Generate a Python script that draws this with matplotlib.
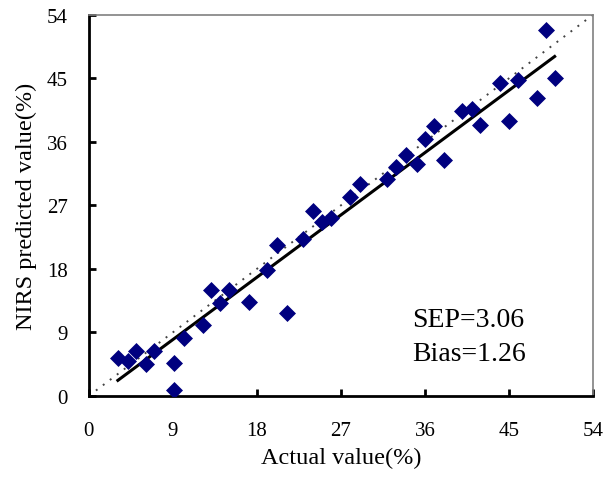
import matplotlib.pyplot as plt
import numpy as np

# Actual vs NIRS-predicted content (%)
actual = [3.1, 4.2, 5.0, 6.1, 7.0, 9.1, 9.1, 10.2, 12.2, 13.1, 14.0, 15.0, 17.1,
          19.1, 20.1, 21.2, 22.9, 24.0, 25.0, 25.9, 28.0, 29.0, 31.9, 32.9, 34.0,
          35.1, 36.0, 37.0, 38.0, 40.0, 41.0, 41.9, 44.0, 45.0, 46.0, 48.0, 49.0,
          49.9]
predicted = [5.4, 5.0, 6.3, 4.5, 6.3, 4.6, 0.8, 8.2, 10.1, 15.0, 13.2, 15.0, 13.3,
             17.9, 21.4, 11.8, 22.2, 26.2, 24.7, 25.2, 28.2, 30.0, 30.7, 32.4, 34.1,
             32.8, 36.4, 38.3, 33.4, 40.4, 40.6, 38.4, 44.4, 38.9, 44.7, 42.2, 51.9,
             45.1]

# regression line of predicted on actual
fit_slope = 0.981
fit_intercept = -0.85

ticks = [0, 9, 18, 27, 36, 45, 54]
sep = 3.06
bias = 1.26

plt.rcParams['font.family'] = ['Liberation Serif', 'DejaVu Serif']

fig = plt.figure(figsize=(6.05, 4.81), dpi=100)
ax = fig.add_axes([0.147, 0.175, 0.833, 0.792])

# 1:1 reference line
ax.plot([0, 54], [0, 54], linestyle=(0, (1, 3.5)), color='#444444', linewidth=1.4)

xs = np.array([min(actual), max(actual)])
ax.plot(xs, fit_slope * xs + fit_intercept, color='black', linewidth=2.2)

ax.scatter(actual, predicted, marker='D', s=75, color='#00007f', zorder=3,
           linewidths=0)

ax.set_xlim(0, 54)
ax.set_ylim(0, 54)
ax.set_xticks(ticks)
ax.set_yticks(ticks)

for side in ['left', 'bottom']:
    ax.spines[side].set_linewidth(2.0)
    ax.spines[side].set_color('black')
for side in ['top', 'right']:
    ax.spines[side].set_linewidth(1.2)
    ax.spines[side].set_color('#808080')

ax.tick_params(axis='both', direction='in', length=5, width=2.0, labelsize=15,
               colors='black')
ax.tick_params(axis='x', pad=18)
ax.tick_params(axis='y', pad=15)

ax.set_xlabel('Actual value(%)', fontsize=17.5, labelpad=5)
ax.set_ylabel('NIRS predicted value(%)', fontsize=17.5, labelpad=7)

ax.text(0.642, 0.20, 'SEP=%.2f' % sep, transform=ax.transAxes, fontsize=20,
        va='center', ha='left')
ax.text(0.642, 0.11, 'Bias=%.2f' % bias, transform=ax.transAxes, fontsize=20,
        va='center', ha='left')

fig.savefig('out.png', dpi=100)
